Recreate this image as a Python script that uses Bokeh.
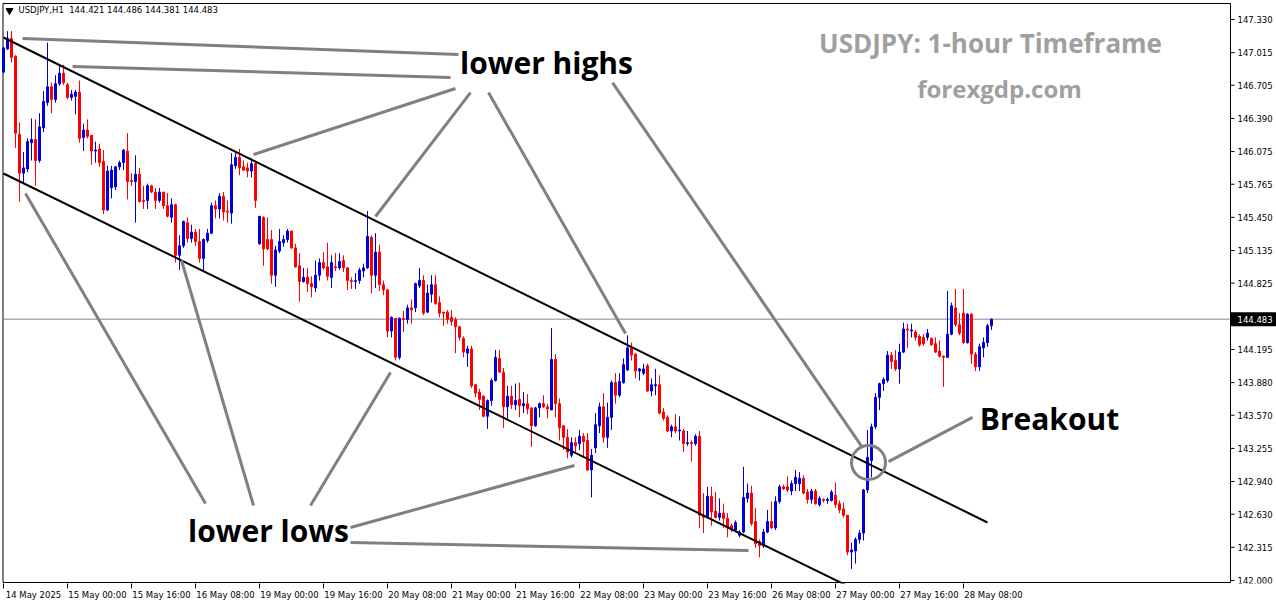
from bokeh.plotting import figure
from bokeh.models import Range1d, FixedTicker, ColumnDataSource
from bokeh.core.properties import value
from bokeh.embed import file_html
from bokeh.resources import INLINE

# ---------------- data (USDJPY H1) ----------------
opens = [146.83,147.05,147.15,146.98,146.24,145.87,145.91,146.16,146.19,145.99,
146.30,146.54,146.69,146.57,146.72,146.82,146.71,146.59,146.60,146.64,
146.21,146.28,146.23,146.08,146.10,145.98,145.52,145.73,145.74,145.93,
145.97,146.08,145.80,145.79,145.86,145.61,145.61,145.75,145.69,145.61,
145.69,145.56,145.45,145.57,145.09,145.18,145.40,145.25,145.31,145.22,
145.06,145.23,145.30,145.56,145.53,145.65,145.51,145.49,145.94,146.02,
145.93,145.92,145.89,145.96,145.20,145.45,145.24,145.24,144.90,145.13,
145.21,145.24,145.32,145.16,144.99,144.84,144.88,144.82,144.78,144.90,
145.02,144.98,144.88,144.98,144.97,145.04,144.97,144.85,144.84,144.85,
144.94,144.97,145.26,144.90,145.12,144.81,144.76,144.37,144.49,144.12,
144.49,144.48,144.59,144.59,144.80,144.85,144.55,144.72,144.81,144.64,
144.55,144.55,144.50,144.48,144.41,144.30,144.16,144.20,143.86,143.79,
143.75,143.56,143.71,143.90,144.11,143.98,143.65,143.75,143.67,143.72,
143.66,143.68,143.64,143.47,143.64,143.68,143.65,143.62,144.10,143.68,
143.47,143.36,143.19,143.31,143.30,143.37,143.33,143.05,143.26,143.47,
143.65,143.36,143.55,143.88,143.76,143.88,144.00,144.21,144.15,143.99,
143.97,144.04,143.80,143.85,143.86,143.60,143.55,143.42,143.46,143.42,
143.42,143.30,143.31,143.30,143.37,142.62,142.60,142.80,142.66,142.60,
142.64,142.59,142.52,142.48,142.43,142.46,142.78,142.83,142.56,142.37,
142.33,142.46,142.56,142.50,142.75,142.89,142.89,142.85,142.92,142.92,
142.97,142.84,142.77,142.85,142.72,142.77,142.76,142.76,142.81,142.73,
142.68,142.62,142.27,142.28,142.39,142.45,142.86,143.14,143.46,143.74,
143.87,143.90,144.14,144.09,144.01,144.17,144.39,144.37,144.36,144.32,
144.31,144.31,144.30,144.25,144.18,144.13,144.12,144.34,144.59,144.43,
144.54,144.26,144.53,144.15,144.03,144.21,144.26,144.421]

highs = [147.07,147.22,147.22,146.99,146.35,146.07,146.20,146.39,146.38,146.44,
146.65,147.11,146.73,146.80,146.89,146.90,146.73,146.66,146.66,146.75,
146.34,146.38,146.23,146.17,146.15,146.09,145.94,145.94,145.94,145.99,
146.10,146.25,145.87,146.04,145.92,145.75,145.77,145.76,145.73,145.73,
145.69,145.68,145.63,145.58,145.28,145.42,145.45,145.38,145.34,145.34,
145.25,145.34,145.59,145.61,145.68,145.69,145.61,146.06,146.06,146.10,
145.99,145.97,146.01,145.99,145.46,145.46,145.45,145.33,145.18,145.34,
145.28,145.34,145.32,145.20,145.11,144.97,144.97,144.89,145.04,145.06,
145.12,145.21,145.09,145.11,145.11,145.09,144.98,144.88,144.92,144.97,
145.01,145.51,145.28,145.30,145.19,144.85,144.77,144.51,144.49,144.50,
144.56,144.62,144.67,144.83,144.97,144.90,144.81,144.90,144.90,144.70,
144.55,144.57,144.57,144.50,144.42,144.32,144.23,144.23,143.87,143.82,
143.76,143.72,143.92,144.19,144.19,144.02,143.85,143.85,143.87,143.88,
143.79,143.77,143.64,143.65,143.69,143.76,143.68,144.40,144.15,143.73,
143.47,143.44,143.36,143.36,143.43,143.40,143.40,143.25,143.59,143.69,
143.78,143.69,143.90,143.97,143.97,144.11,144.33,144.26,144.16,144.02,
144.06,144.06,143.92,144.01,143.95,143.64,143.57,143.48,143.58,143.56,
143.44,143.42,143.33,143.39,143.42,142.83,142.89,142.89,142.84,142.78,
142.73,142.64,142.54,142.57,142.48,143.08,142.92,142.90,142.69,142.39,
142.49,142.67,142.75,142.80,142.91,142.91,142.99,142.95,143.05,143.03,
143.00,142.87,142.87,142.87,142.80,142.78,142.79,142.86,142.93,142.76,
142.74,142.62,142.36,142.41,142.48,142.87,143.43,143.49,143.78,143.88,
143.93,144.18,144.17,144.19,144.25,144.45,144.44,144.44,144.38,144.34,
144.34,144.39,144.31,144.31,144.28,144.14,144.75,144.64,144.77,144.54,
144.77,144.54,144.54,144.17,144.25,144.31,144.44,144.486]

lows = [146.82,147.04,146.92,146.11,145.60,145.77,145.88,145.99,145.75,145.97,
146.26,146.51,146.44,146.54,146.70,146.71,146.57,146.56,146.43,146.16,
146.08,146.20,145.95,145.97,145.93,145.48,145.51,145.63,145.71,145.90,
145.90,145.62,145.75,145.40,145.59,145.53,145.53,145.68,145.53,145.59,
145.53,145.45,145.40,145.02,144.95,145.16,145.21,145.21,145.18,145.02,
144.94,145.21,145.29,145.44,145.44,145.42,145.40,145.39,145.91,145.85,
145.89,145.83,145.83,145.54,145.19,144.99,145.14,144.82,144.79,145.11,
145.17,145.21,145.15,144.97,144.65,144.83,144.74,144.69,144.74,144.85,
144.95,144.85,144.78,144.94,144.95,144.93,144.76,144.77,144.77,144.82,
144.88,144.96,144.73,144.78,144.75,144.71,144.31,144.31,144.09,144.10,
144.36,144.44,144.44,144.55,144.78,144.52,144.54,144.64,144.62,144.50,
144.42,144.44,144.42,144.16,144.28,144.12,144.03,143.83,143.74,143.62,
143.55,143.44,143.66,143.89,143.97,143.45,143.54,143.63,143.62,143.55,
143.59,143.58,143.27,143.46,143.55,143.64,143.54,143.62,143.55,143.33,
143.24,143.16,143.17,143.22,143.24,143.17,143.04,142.79,143.21,143.40,
143.31,143.26,143.43,143.68,143.74,143.87,143.99,144.09,143.92,143.90,
143.95,143.79,143.75,143.76,143.58,143.52,143.41,143.36,143.40,143.33,
143.22,143.28,143.13,143.28,142.50,142.45,142.59,142.52,142.59,142.57,
142.50,142.41,142.46,142.46,142.41,142.45,142.74,142.52,142.31,142.22,
142.31,142.45,142.49,142.48,142.73,142.86,142.84,142.81,142.85,142.85,
142.82,142.73,142.73,142.72,142.70,142.74,142.73,142.75,142.69,142.64,
142.60,142.24,142.11,142.16,142.35,142.38,142.83,142.98,143.44,143.62,
143.80,143.88,144.01,143.99,143.87,144.16,144.21,144.31,144.28,144.22,
144.23,144.28,144.23,144.16,144.12,143.84,144.12,144.33,144.41,144.33,
144.25,144.25,144.06,143.99,143.99,144.12,144.22,144.381]

closes = [147.06,147.15,146.97,146.25,145.87,145.92,146.17,146.19,145.99,146.31,
146.55,146.69,146.57,146.72,146.82,146.73,146.59,146.62,146.64,146.20,
146.28,146.22,146.08,146.09,145.97,145.52,145.89,145.90,145.93,145.97,
146.09,145.79,145.79,145.86,145.60,145.60,145.75,145.69,145.61,145.69,
145.56,145.46,145.57,145.09,145.18,145.41,145.25,145.31,145.22,145.06,
145.24,145.30,145.56,145.53,145.65,145.50,145.50,145.95,146.02,145.92,
145.90,145.89,145.96,145.61,145.46,145.15,145.15,144.90,145.14,145.22,
145.24,145.32,145.16,144.98,144.84,144.88,144.82,144.79,144.90,145.02,
144.97,144.89,145.02,144.97,145.03,144.97,144.85,144.84,144.85,144.95,
144.97,145.27,144.90,145.12,144.81,144.76,144.37,144.50,144.12,144.49,
144.48,144.59,144.57,144.82,144.85,144.54,144.73,144.81,144.63,144.54,
144.54,144.48,144.46,144.41,144.31,144.17,144.20,143.85,143.78,143.72,
143.56,143.71,143.90,144.12,143.98,143.65,143.75,143.67,143.71,143.66,
143.68,143.63,143.47,143.64,143.68,143.65,143.63,144.10,143.68,143.45,
143.36,143.22,143.31,143.28,143.37,143.32,143.05,143.19,143.48,143.65,
143.36,143.55,143.88,143.76,143.89,144.05,144.21,144.14,143.99,144.01,
144.01,143.80,143.86,143.86,143.59,143.54,143.42,143.46,143.42,143.43,
143.30,143.31,143.30,143.37,142.62,142.60,142.80,142.65,142.60,142.64,
142.59,142.50,142.48,142.55,142.46,142.79,142.83,142.54,142.35,142.33,
142.46,142.56,142.50,142.75,142.89,142.87,142.86,142.92,142.98,142.97,
142.83,142.77,142.85,142.73,142.78,142.76,142.77,142.84,142.72,142.67,
142.62,142.27,142.29,142.39,142.45,142.86,143.17,143.46,143.74,143.87,
143.91,144.14,144.08,144.01,144.17,144.39,144.38,144.38,144.31,144.24,
144.25,144.35,144.24,144.17,144.13,144.12,144.34,144.61,144.43,144.35,
144.26,144.53,144.15,144.03,144.22,144.26,144.42,144.483]

x_tick_bars = [0, 16, 32, 48, 64, 80, 96, 112, 128, 144, 160, 176, 192, 208, 224, 240]
x_tick_labels = ["14 May 2025", "15 May 00:00", "15 May 16:00", "16 May 08:00",
                 "19 May 00:00", "19 May 16:00", "20 May 08:00", "21 May 00:00",
                 "21 May 16:00", "22 May 08:00", "23 May 00:00", "23 May 16:00",
                 "26 May 08:00", "27 May 00:00", "27 May 16:00", "28 May 08:00"]
y_ticks = [142.000, 142.315, 142.630, 142.940, 143.255, 143.570, 143.880, 144.195,
           144.510, 144.825, 145.135, 145.450, 145.765, 146.075, 146.390, 146.705,
           147.015, 147.330]
last_price = 144.483
header = "USDJPY,H1\u00a0\u00a0144.421 144.486 144.381 144.483"

# chart geometry in data units (bar index, price)
X_LEFT, X_AXIS, X_END = -0.5, 306.75, 318.25
Y_BOTTOM, Y_TOP = 141.9713, 147.5105
Y_AXISLINE, Y_TOPLINE = 141.9808, 147.482
PX = 1 / 105.25   # one screen pixel in price units

# channel lines
upper_channel_x = [0, 246]
upper_channel_y = [147.159, 142.551]
lower_channel_x = [0, 212]
lower_channel_y = [145.867, 141.93]

# annotation pointer lines
ann_x0 = [113.75, 111.75, 113.0, 116.75, 121.25, 152.25, 242.25,
          50.5, 62.5, 76.75, 86.75, 86.75]
ann_y0 = [146.997, 146.779, 146.674, 146.636, 146.636, 146.731, 143.549,
          142.731, 142.712, 142.712, 142.503, 142.361]
ann_x1 = [4.75, 17.25, 62.5, 93.0, 155.5, 214.75, 221.25,
          5.5, 44.5, 96.75, 142.75, 186.25]
ann_y1 = [147.149, 146.883, 146.047, 145.458, 144.347, 143.263, 143.130,
          145.677, 145.04, 143.976, 143.093, 142.285]

# ---------------- build ----------------
idx = list(range(len(opens)))
bull = [c >= o for o, c in zip(opens, closes)]
colors = ["#0000DD" if b else "#FF0000" for b in bull]
src = ColumnDataSource(dict(
    x=idx, o=opens, h=highs, l=lows, c=closes,
    top=[max(o, c) for o, c in zip(opens, closes)],
    bottom=[min(o, c) for o, c in zip(opens, closes)],
    color=colors))

p = figure(width=1276, height=604,
           x_range=Range1d(X_LEFT, X_END), y_range=Range1d(Y_BOTTOM, Y_TOP),
           output_backend="svg", toolbar_location=None, y_axis_location=None,
           min_border_left=1, min_border_right=0, min_border_top=0, min_border_bottom=21,
           background_fill_color="white", border_fill_color="white",
           outline_line_color=None)
p.grid.visible = False

# x axis: labels start at the tick (MT4 style)
p.xaxis.ticker = FixedTicker(ticks=[t + 7.5 for t in x_tick_bars], minor_ticks=x_tick_bars)
p.xaxis.major_label_overrides = {t + 7.5: lab for t, lab in zip(x_tick_bars, x_tick_labels)}
p.xaxis.axis_line_color = None
p.xaxis.major_tick_line_color = None
p.xaxis.major_tick_out = 5
p.xaxis.major_tick_in = 0
p.xaxis.minor_tick_line_color = "black"
p.xaxis.minor_tick_out = 5
p.xaxis.minor_tick_in = 0
p.xaxis.major_label_standoff = 1
p.xaxis.major_label_text_font = "DejaVu Sans"
p.xaxis.major_label_text_font_size = "8.5px"
p.xaxis.major_label_text_color = "black"

# frame lines: left, top, bottom axis line, right axis line
p.segment(x0=[-0.125, -0.125, -0.125, X_AXIS], y0=[Y_AXISLINE, Y_TOPLINE, Y_AXISLINE, Y_AXISLINE],
          x1=[-0.125, X_AXIS, X_AXIS, X_AXIS], y1=[Y_TOPLINE, Y_TOPLINE, Y_AXISLINE, Y_TOPLINE],
          line_color="black", line_width=1)

# right price axis (ticks + labels)
p.segment(x0=[X_AXIS] * len(y_ticks), y0=y_ticks, x1=[X_AXIS + 1.0] * len(y_ticks), y1=y_ticks,
          line_color="black", line_width=1)
p.text(x=[X_AXIS + 1.75] * len(y_ticks), y=y_ticks, text=["%.3f" % t for t in y_ticks],
       text_font=value("DejaVu Sans"), text_font_size="8.5px", text_align="left",
       text_baseline="middle", text_color="black")

# current price line + tag
p.line([X_LEFT, X_AXIS], [last_price, last_price], line_color="#778899", line_width=1)
p.quad(left=[X_AXIS + 0.1], right=[X_END], top=[last_price + 7 * PX], bottom=[last_price - 7 * PX],
       fill_color="black", line_color=None)
p.text(x=[X_AXIS + 1.75], y=[last_price], text=["%.3f" % last_price],
       text_font=value("DejaVu Sans"), text_font_size="8.5px", text_align="left",
       text_baseline="middle", text_color="white")

# candles
p.segment(x0="x", y0="l", x1="x", y1="h", line_color="color", line_width=1, source=src)
p.vbar(x="x", width=0.5, top="top", bottom="bottom", fill_color="color",
       line_color="color", line_width=1, source=src)

# channel
p.line(upper_channel_x, upper_channel_y, line_color="black", line_width=2)
p.line(lower_channel_x, lower_channel_y, line_color="black", line_width=2)

# annotation lines + breakout circle
p.segment(x0=ann_x0, y0=ann_y0, x1=ann_x1, y1=ann_y1, line_color="#808080", line_width=3)
p.scatter([216.25], [143.121], marker="circle", size=34, fill_color=None,
          line_color="#808080", line_width=3)

# annotation texts
p.text(x=[135.75, 261.5, 66.25], y=[146.921, 143.539, 142.475],
       text=["lower highs", "Breakout", "lower lows"],
       text_font=value("Open Sans"), text_font_style="bold", text_font_size="30px",
       text_align="center", text_baseline="middle", text_color="black")
p.text(x=[246.75], y=[147.111], text=["USDJPY: 1-hour Timeframe"],
       text_font=value("Open Sans"), text_font_style="bold", text_font_size="26px",
       text_align="center", text_baseline="middle", text_color="#A0A0A0")
p.text(x=[249.0], y=[146.674], text=["forexgdp.com"],
       text_font=value("Open Sans"), text_font_style="bold", text_font_size="24px",
       text_align="center", text_baseline="middle", text_color="#A0A0A0")

# header
p.scatter([1.5], [Y_TOP - 10 * PX], marker="inverted_triangle", size=7,
          fill_color="black", line_color="black")
p.text(x=[3.75], y=[Y_TOP - 10 * PX], text=[header],
       text_font=value("DejaVu Sans"), text_font_size="8.5px", text_align="left",
       text_baseline="middle", text_color="black")

open("out.html", "w").write(file_html(p, INLINE))
